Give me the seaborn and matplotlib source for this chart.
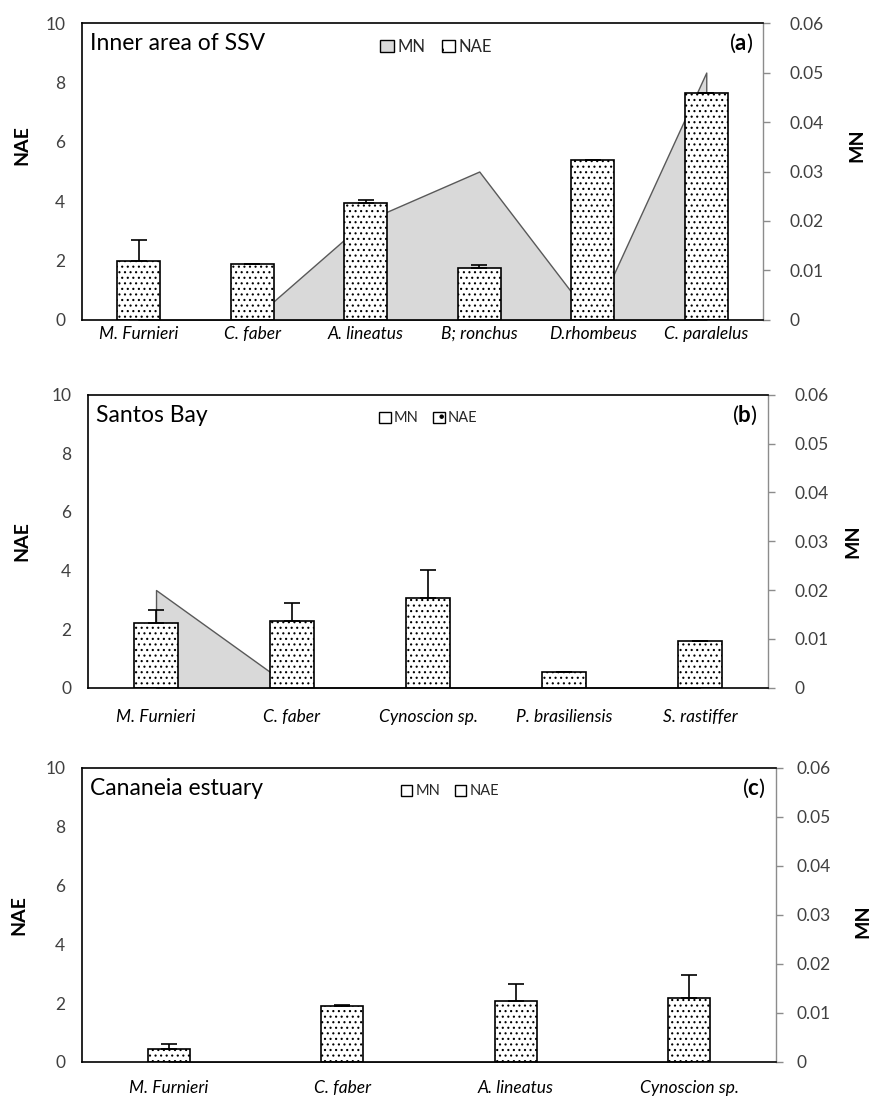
import matplotlib
matplotlib.use('Agg')
import matplotlib.pyplot as plt
from matplotlib.patches import Patch
from matplotlib.ticker import FuncFormatter
import numpy as np
import seaborn as sns

# data
cats_a = ['M. Furnieri', 'C. faber', 'A. lineatus', 'B; ronchus', 'D.rhombeus', 'C. paralelus']
nae_a = [2.0, 1.9, 3.95, 1.75, 5.4, 7.65]
err_a = [0.7, 0.0, 0.1, 0.1, 0.0, 0.0]
mn_a = [0.0, 0.0, 0.02, 0.03, 0.0, 0.05]

cats_b = ['M. Furnieri', 'C. faber', 'Cynoscion sp.', 'P. brasiliensis', 'S. rastiffer']
nae_b = [2.22, 2.28, 3.05, 0.55, 1.58]
err_b = [0.43, 0.6, 0.98, 0.0, 0.0]
mn_b = [0.02, 0.0, 0.0, 0.0, 0.0]

cats_c = ['M. Furnieri', 'C. faber', 'A. lineatus', 'Cynoscion sp.']
nae_c = [0.44, 1.9, 2.07, 2.18]
err_c = [0.17, 0.04, 0.57, 0.79]
mn_c = [0.0, 0.0, 0.0, 0.0]

sns.set_theme(style='white')
plt.rcParams['font.family'] = ['Lato', 'DejaVu Sans']
plt.rcParams['mathtext.fontset'] = 'custom'
plt.rcParams['mathtext.rm'] = 'Lato'
plt.rcParams['mathtext.bf'] = 'Lato:bold'
plt.rcParams['hatch.linewidth'] = 0.8
plt.rcParams['hatch.color'] = 'black'

label_col = '#404040'
area_col = '#d9d9d9'
area_edge = '#595959'
axis_gray = '#8c8c8c'


def draw_panel(ax, cats, nae, err, mn, title, tag, width, legend_size, mn_face,
               xpad, rpad, nae_pos, mn_pos, leg_x):
    ax2 = ax.twinx()
    ax.set_zorder(ax2.get_zorder() + 1)
    ax.patch.set_visible(False)

    x = np.arange(len(cats))
    # MN area on secondary axis, behind the bars
    ax2.fill_between(x, mn, 0, facecolor=area_col, edgecolor=area_edge, linewidth=1.0)
    ax2.set_ylim(0, 0.06)
    ax2.set_yticks(np.arange(0, 0.061, 0.01))
    ax2.yaxis.set_major_formatter(FuncFormatter(lambda v, _: '0' if abs(v) < 1e-9 else f'{v:.2f}'))
    ax2.tick_params(axis='y', right=True, direction='out', length=5, width=1,
                    color=axis_gray, labelcolor=label_col, labelsize=12.5, pad=rpad)
    for s in ['left', 'top', 'bottom']:
        ax2.spines[s].set_visible(False)
    ax2.spines['right'].set_color(axis_gray)
    ax2.spines['right'].set_linewidth(1.0)
    ax2.set_ylabel('MN', fontsize=14, fontweight='bold', color='black')
    ax2.yaxis.set_label_coords(*mn_pos)

    # NAE bars
    sns.barplot(x=cats, y=nae, ax=ax, color='white', saturation=1, width=width,
                edgecolor='black', linewidth=1.2, errorbar=None)
    for p in ax.patches:
        p.set_hatch('...')
    ax.errorbar(x, nae, yerr=[np.zeros(len(err)), err], fmt='none', ecolor='black',
                elinewidth=1.2, capsize=6, capthick=1.2)

    ax.set_xlim(-0.5, len(cats) - 0.5)
    ax.set_ylim(0, 10)
    ax.set_yticks(range(0, 11, 2))
    ax.tick_params(axis='y', left=True, length=0, labelsize=12.5, labelcolor=label_col, pad=12)
    ax.tick_params(axis='x', bottom=True, length=0, labelsize=12.5, labelcolor='black', pad=xpad)
    for t in ax.get_xticklabels():
        t.set_fontstyle('italic')
    for s in ['left', 'top', 'bottom']:
        ax.spines[s].set_color('black')
        ax.spines[s].set_linewidth(1.2)
    ax.spines['right'].set_visible(False)
    ax.set_ylabel('NAE', fontsize=14, fontweight='bold', color='black')
    ax.yaxis.set_label_coords(*nae_pos)

    ax.text(0.012, 0.93, title, transform=ax.transAxes, fontsize=16.5, ha='left',
            va='center', color='black')
    ax.text(0.985, 0.93, r'($\mathbf{' + tag + '}$)', transform=ax.transAxes,
            fontsize=16, ha='right', va='center', color='black')

    handles = [Patch(facecolor=mn_face, edgecolor='black', linewidth=1),
               Patch(facecolor='white', edgecolor='black', linewidth=1, hatch='.')]
    ax.legend(handles, ['MN', 'NAE'], loc='center', bbox_to_anchor=(leg_x, 0.92),
              ncol=2, frameon=False, fontsize=legend_size, handlelength=0.8,
              handleheight=0.8, handletextpad=0.2, columnspacing=1.0)


fig = plt.figure(figsize=(8.75, 10.98), dpi=100)
ax_a = fig.add_axes([0.0937, 0.7086, 0.7783, 0.2704])
ax_b = fig.add_axes([0.1006, 0.3737, 0.7771, 0.2668])
ax_c = fig.add_axes([0.0937, 0.0328, 0.7932, 0.2680])

draw_panel(ax_a, cats_a, nae_a, err_a, mn_a, 'Inner area of SSV', 'a', 0.38, 12,
           area_col, 4, 14, (-0.076, 0.59), (1.125, 0.59), 0.52)
draw_panel(ax_b, cats_b, nae_b, err_b, mn_b, 'Santos Bay', 'b', 0.32, 10.5,
           'white', 15, 14, (-0.085, 0.5), (1.113, 0.5), 0.50)
draw_panel(ax_c, cats_c, nae_c, err_c, mn_c, 'Cananeia estuary', 'c', 0.24, 10.5,
           'white', 13, 10, (-0.078, 0.5), (1.113, 0.48), 0.53)

fig.savefig('out.png', dpi=100)
